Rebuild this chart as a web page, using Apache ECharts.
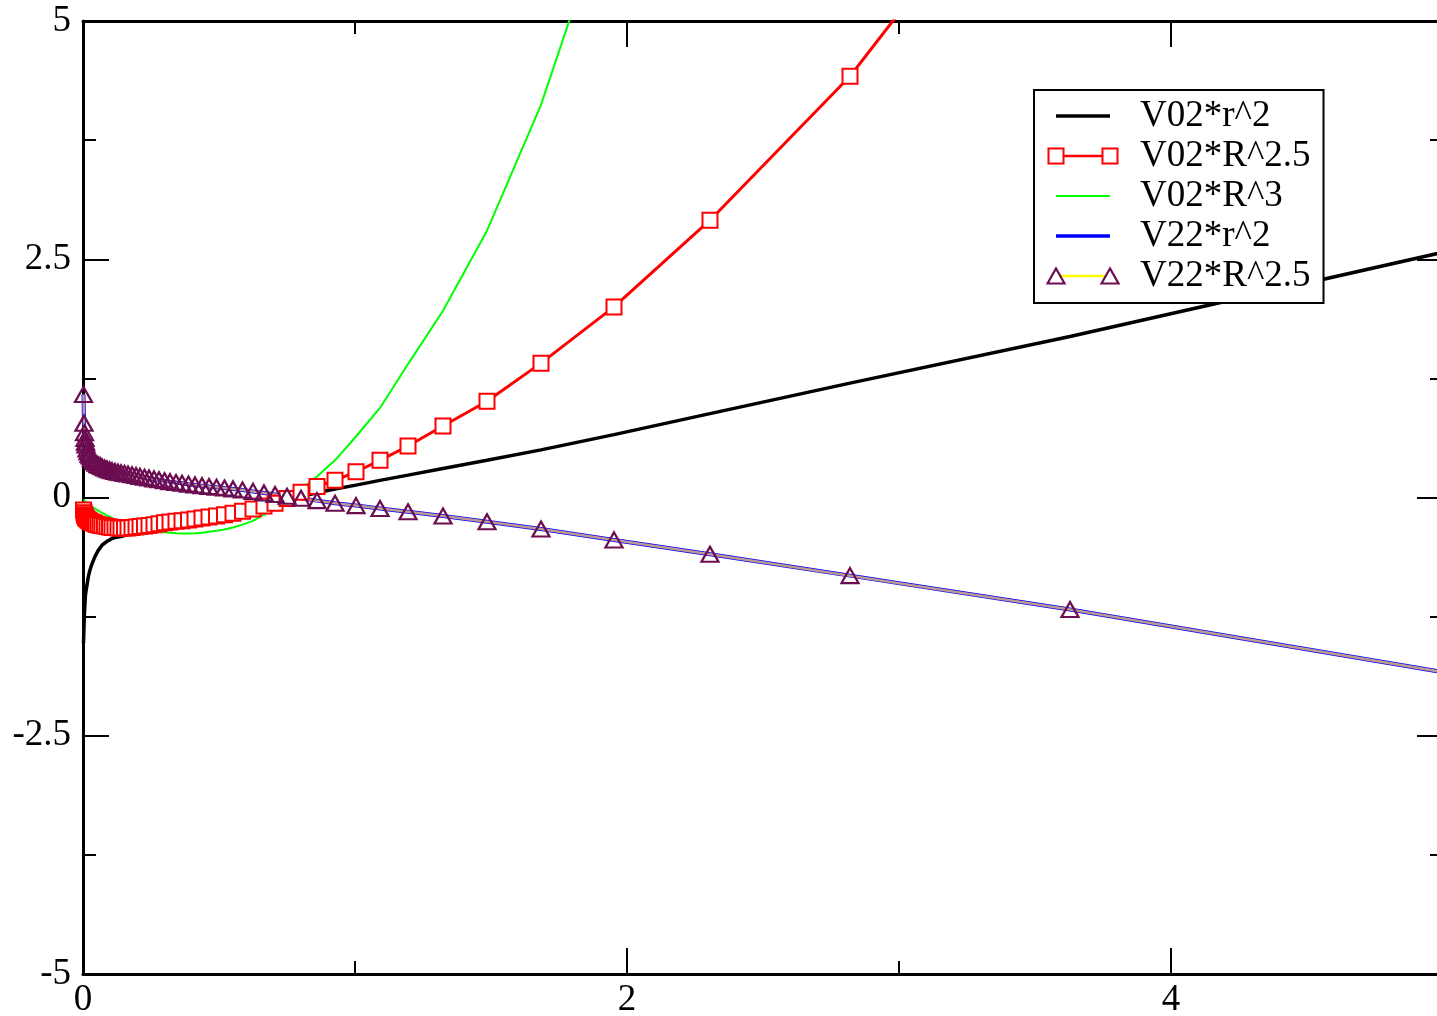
<!DOCTYPE html>
<html>
<head>
<meta charset="utf-8">
<script src="https://cdn.jsdelivr.net/npm/echarts@6/dist/echarts.min.js"></script>
<style>
  html, body { margin: 0; padding: 0; background: #fff; }
  #chart { width: 1437px; height: 1016px; }
</style>
</head>
<body>
<div id="chart"></div>
<script>
// radial grid shared by all five curves
var xs = [0.0018,0.0037,0.0055,0.0074,0.0092,0.011,0.0147,0.0184,0.0221,0.0257,
  0.0313,0.0368,0.0423,0.0478,0.0551,0.0625,0.0699,0.079,0.0882,0.0974,
  0.1066,0.1176,0.1287,0.1397,0.1526,0.1654,0.1801,0.1949,0.2096,0.2261,
  0.2426,0.261,0.2794,0.2996,0.3199,0.3419,0.364,0.3879,0.4118,0.4375,
  0.4632,0.4908,0.5202,0.5515,0.5864,0.625,0.6654,0.7059,0.75,0.8015,
  0.8603,0.9265,1.0037,1.0919,1.1949,1.3235,1.4853,1.6838,1.9522,2.3051,
  2.8199,3.6287,5.6];

var v02r2 = [-1.53,-1.35,-1.2,-1.1,-1.02,-0.98,-0.92,-0.85,-0.8,-0.76,
  -0.71,-0.67,-0.63,-0.6,-0.56,-0.53,-0.5,-0.48,-0.46,-0.445,
  -0.43,-0.42,-0.415,-0.41,-0.4,-0.39,-0.375,-0.36,-0.345,-0.33,
  -0.315,-0.3,-0.285,-0.27,-0.255,-0.24,-0.225,-0.205,-0.19,-0.17,
  -0.155,-0.14,-0.125,-0.11,-0.09,-0.075,-0.055,-0.035,-0.015,0.01,
  0.05,0.09,0.13,0.18,0.235,0.305,0.39,0.5,0.66,0.88,
  1.2,1.69,2.96];

var v02R25 = [-0.13,-0.16,-0.18,-0.195,-0.205,-0.215,-0.225,-0.235,-0.245,-0.25,
  -0.26,-0.265,-0.27,-0.28,-0.285,-0.29,-0.295,-0.3,-0.305,-0.31,
  -0.315,-0.315,-0.32,-0.32,-0.32,-0.32,-0.315,-0.31,-0.305,-0.3,
  -0.295,-0.285,-0.275,-0.265,-0.258,-0.25,-0.243,-0.235,-0.225,-0.215,
  -0.205,-0.195,-0.18,-0.165,-0.145,-0.12,-0.09,-0.06,-0.01,0.055,
  0.115,0.18,0.27,0.39,0.54,0.75,1.01,1.41,2.0,2.91,
  4.42,7.4,null];

var v02R3 = [-0.02,-0.03,-0.035,-0.04,-0.045,-0.05,-0.06,-0.07,-0.075,-0.085,
  -0.095,-0.105,-0.115,-0.125,-0.135,-0.15,-0.16,-0.175,-0.19,-0.2,
  -0.215,-0.23,-0.245,-0.26,-0.275,-0.29,-0.305,-0.315,-0.325,-0.335,
  -0.345,-0.355,-0.36,-0.365,-0.37,-0.375,-0.378,-0.378,-0.375,-0.37,
  -0.36,-0.35,-0.335,-0.315,-0.285,-0.245,-0.18,-0.1,-0.02,0.09,
  0.22,0.39,0.64,0.94,1.4,1.96,2.8,4.12,6.4,null,
  null,null,null];

var v22r2 = [1.08,0.78,0.68,0.62,0.58,0.55,0.51,0.48,0.455,0.435,
  0.41,0.39,0.375,0.36,0.345,0.335,0.322,0.31,0.3,0.29,
  0.282,0.274,0.266,0.26,0.253,0.246,0.238,0.23,0.222,0.213,
  0.204,0.195,0.186,0.176,0.166,0.157,0.149,0.14,0.132,0.124,
  0.116,0.108,0.1,0.09,0.078,0.064,0.048,0.032,0.013,-0.008,
  -0.033,-0.06,-0.085,-0.115,-0.15,-0.195,-0.255,-0.33,-0.445,-0.595,
  -0.82,-1.175,-2.12];

var v22R25 = [1.08,0.78,0.68,0.62,0.58,0.55,0.51,0.48,0.455,0.435,
  0.41,0.39,0.375,0.36,0.345,0.335,0.322,0.31,0.3,0.29,
  0.282,0.274,0.266,0.26,0.253,0.246,0.238,0.23,0.222,0.213,
  0.204,0.195,0.186,0.176,0.166,0.157,0.149,0.14,0.132,0.124,
  0.116,0.108,0.1,0.09,0.078,0.064,0.048,0.032,0.013,-0.008,
  -0.033,-0.06,-0.085,-0.115,-0.15,-0.195,-0.255,-0.33,-0.445,-0.595,
  -0.82,-1.175,-2.12];

var names = ['V02*r^2', 'V02*R^2.5', 'V02*R^3', 'V22*r^2', 'V22*R^2.5'];
var yTicks = [-5, -2.5, 0, 2.5, 5];

var FONT = 'Liberation Serif, Times New Roman, DejaVu Serif, serif';
var PURPLE = '#6b0d50';

function pairs(ys) {
  return xs.map(function (x, i) { return [x, ys[i]]; });
}

// legend icons in the grace style: line with a symbol on each end
function svgIcon(body) {
  var svg = '<svg xmlns="http://www.w3.org/2000/svg" width="89" height="40">' + body + '</svg>';
  return 'image://data:image/svg+xml;charset=utf-8,' + encodeURIComponent(svg);
}
var icons = [
  svgIcon('<line x1="10" y1="20" x2="64" y2="20" stroke="#000" stroke-width="3.5"/>'),
  svgIcon('<line x1="10" y1="20" x2="64" y2="20" stroke="#f00" stroke-width="2.5"/>' +
    '<rect x="2.5" y="12.5" width="15" height="15" fill="#fff" stroke="#f00" stroke-width="2"/>' +
    '<rect x="56.5" y="12.5" width="15" height="15" fill="#fff" stroke="#f00" stroke-width="2"/>'),
  svgIcon('<line x1="10" y1="20" x2="64" y2="20" stroke="#00ff00" stroke-width="2"/>'),
  svgIcon('<line x1="10" y1="20" x2="64" y2="20" stroke="#0000ff" stroke-width="3.5"/>'),
  svgIcon('<line x1="10" y1="20" x2="64" y2="20" stroke="#ffff00" stroke-width="2.5"/>' +
    '<polygon points="1.5,27.5 10,12.5 18.5,27.5" fill="#fff" stroke="' + PURPLE + '" stroke-width="2.2"/>' +
    '<polygon points="55.5,27.5 64,12.5 72.5,27.5" fill="#fff" stroke="' + PURPLE + '" stroke-width="2.2"/>')
];

function xAxisDef(pos, interval, len, withLine, withLabel) {
  return {
    type: 'value', position: pos, min: 0, max: 5, interval: interval,
    axisLine: { show: withLine, onZero: false, lineStyle: { color: '#000', width: 3 } },
    axisTick: { show: true, inside: true, length: len, lineStyle: { color: '#000', width: 2 } },
    axisLabel: {
      show: withLabel, margin: 8, color: '#000', fontFamily: FONT, fontSize: 37,
      formatter: function (v) { return v % 2 === 0 ? String(v) : ''; }
    },
    splitLine: { show: false }
  };
}

function yAxisDef(pos, withLabel) {
  return {
    type: 'value', position: pos, min: yTicks[0], max: yTicks[yTicks.length - 1], interval: 2.5,
    axisLine: { show: true, onZero: false, lineStyle: { color: '#000', width: 3 } },
    axisTick: { show: true, inside: true, length: 26, lineStyle: { color: '#000', width: 2 } },
    minorTick: { show: true, splitNumber: 2, length: 13, lineStyle: { color: '#000', width: 2 } },
    axisLabel: { show: withLabel, margin: 12, color: '#000', fontFamily: FONT, fontSize: 37 },
    splitLine: { show: false },
    minorSplitLine: { show: false }
  };
}

var chart = echarts.init(document.getElementById('chart'), null, { renderer: 'canvas' });

var option = {
  backgroundColor: '#fff',
  animation: false,
  textStyle: { fontFamily: FONT },
  grid: { left: 83, right: -6, top: 21, bottom: 42, containLabel: false, outerBoundsMode: 'none' },
  xAxis: [
    xAxisDef('bottom', 1, 13, true, true),
    xAxisDef('bottom', 2, 26, false, false),
    xAxisDef('top', 1, 13, true, false),
    xAxisDef('top', 2, 26, false, false)
  ],
  yAxis: [
    yAxisDef('left', true),
    yAxisDef('right', false)
  ],
  legend: {
    orient: 'vertical', left: 1034, top: 90,
    padding: [6, 13, 7, 12],
    itemWidth: 89, itemHeight: 40, itemGap: 0,
    symbolKeepAspect: false,
    selectedMode: false,
    backgroundColor: '#fff', borderColor: '#000', borderWidth: 2, borderRadius: 0,
    textStyle: { color: '#000', fontFamily: FONT, fontSize: 37, lineHeight: 40 },
    data: names.map(function (n, i) { return { name: n, icon: icons[i] }; })
  },
  series: [
    {
      name: names[0], type: 'line', data: pairs(v02r2),
      showSymbol: false, symbol: 'none',
      lineStyle: { color: '#000', width: 3.5 }, itemStyle: { color: '#000' }
    },
    {
      name: names[1], type: 'line', data: pairs(v02R25),
      symbol: 'rect', symbolSize: 15,
      lineStyle: { color: '#f00', width: 3 },
      itemStyle: { color: '#fff', borderColor: '#f00', borderWidth: 2 }
    },
    {
      name: names[2], type: 'line', data: pairs(v02R3),
      showSymbol: false, symbol: 'none',
      lineStyle: { color: '#00ff00', width: 2 }, itemStyle: { color: '#00ff00' }
    },
    {
      name: names[3], type: 'line', data: pairs(v22r2),
      showSymbol: false, symbol: 'none',
      lineStyle: { color: '#0000ff', width: 4 }, itemStyle: { color: '#0000ff' }
    },
    {
      name: names[4], type: 'line', data: pairs(v22R25),
      symbol: 'triangle', symbolSize: [17, 15],
      lineStyle: { color: '#bf9b8f', width: 2.5 },
      itemStyle: { color: 'rgba(255,255,255,0)', borderColor: PURPLE, borderWidth: 2.2 }
    }
  ]
};

chart.setOption(option);
</script>
</body>
</html>
